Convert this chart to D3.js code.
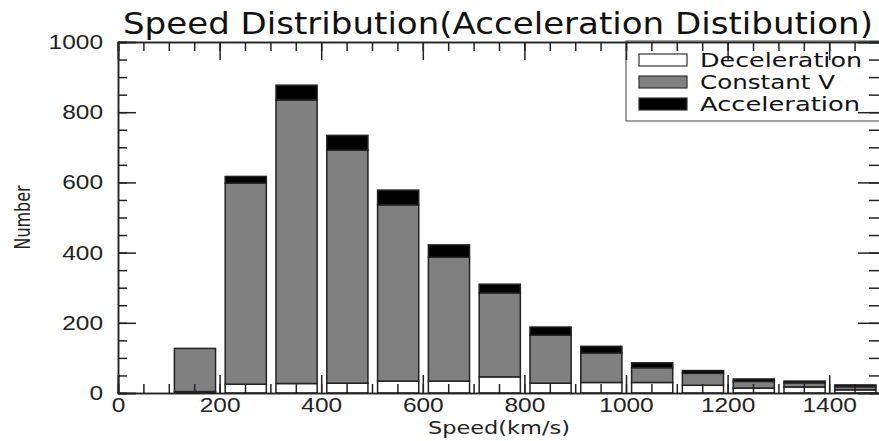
<!DOCTYPE html>
<html>
<head>
<meta charset="utf-8">
<script src="https://cdn.jsdelivr.net/npm/d3@7"></script>
<style>
  body { margin: 0; background: #fff; }
  svg { display: block; font-family: "DejaVu Sans", sans-serif; }
</style>
</head>
<body>
<div id="chart"></div>
<script>
// bins of 100 km/s, starting value of each bin
const binStarts = [100, 200, 300, 400, 500, 600, 700, 800, 900, 1000, 1100, 1200, 1300, 1400]
const deceleration = [4, 25, 27, 28, 34, 34, 46, 28, 30, 30, 22, 14, 17, 9]
const constantV = [123, 573, 808, 664, 502, 353, 239, 137, 84, 42, 34, 19, 12, 9]
const acceleration = [0, 19, 42, 42, 42, 35, 25, 23, 19, 14, 8, 7, 5, 5]
const seriesNames = ['Deceleration', 'Constant V', 'Acceleration']
const seriesColors = ['#ffffff', '#808080', '#000000']
const xTickLabels = [0, 200, 400, 600, 800, 1000, 1200, 1400]
const yTickLabels = [0, 200, 400, 600, 800, 1000]

const width = 879
const height = 441
const margin = { top: 42, right: -1, bottom: 48, left: 118 }

const svg = d3.select('#chart')
  .append('svg')
  .attr('width', width)
  .attr('height', height)

const x = d3.scaleLinear()
  .domain([0, 1500])
  .range([margin.left, width - margin.right])
const y = d3.scaleLinear()
  .domain([0, 1000])
  .range([height - margin.bottom, margin.top])

const rows = binStarts.map((b, i) => ({
  bin: b,
  'Deceleration': deceleration[i],
  'Constant V': constantV[i],
  'Acceleration': acceleration[i]
}))
const stacked = d3.stack().keys(seriesNames)(rows)

// bars
svg.append('g')
  .selectAll('g')
  .data(stacked)
  .join('g')
  .attr('fill', (d, i) => seriesColors[i])
  .selectAll('rect')
  .data(d => d.filter(s => s[1] - s[0] > 0))
  .join('rect')
  .attr('x', d => x(d.data.bin + 11))
  .attr('width', d => x(d.data.bin + 92) - x(d.data.bin + 11))
  .attr('y', d => y(d[1]))
  .attr('height', d => y(d[0]) - y(d[1]))
  .attr('stroke', '#222')
  .attr('stroke-width', 1.5)

// legend (ticks of the frame are drawn over it)
const legend = svg.append('g')
legend.append('rect')
  .attr('x', 626).attr('y', 41)
  .attr('width', 270).attr('height', 80)
  .attr('fill', '#fff')
  .attr('stroke', '#444')
  .attr('stroke-width', 1)
const legendWidths = [162, 135, 160]
seriesNames.forEach((name, i) => {
  const cy = 60 + i * 22
  legend.append('rect')
    .attr('x', 639).attr('y', cy - 6)
    .attr('width', 48).attr('height', 12)
    .attr('fill', seriesColors[i])
    .attr('stroke', '#333')
    .attr('stroke-width', 1.2)
  legend.append('text')
    .attr('x', 700).attr('y', cy)
    .attr('dy', '0.35em')
    .attr('font-size', 20)
    .attr('textLength', legendWidths[i])
    .attr('lengthAdjust', 'spacingAndGlyphs')
    .attr('fill', '#111')
    .text(name)
})

// axes: minor ticks every 50, major every 200, all pointing inward
const minorX = d3.range(0, 1501, 50)
const minorY = d3.range(0, 1001, 50)
const frame = svg.append('g').attr('stroke-width', 1.5)

const addAxis = (axis, transform, labels) => {
  const g = frame.append('g').attr('transform', transform).call(axis)
  g.select('.domain').attr('stroke', '#222').attr('stroke-width', 1.5)
  g.selectAll('.tick line').attr('stroke', '#222').attr('stroke-width', 1.5)
  g.selectAll('text')
    .attr('font-size', 20)
    .attr('fill', '#222')
    .attr('textLength', d => String(d).length * 13.6)
    .attr('lengthAdjust', 'spacingAndGlyphs')
  if (!labels) g.selectAll('text').remove()
  return g
}

const bottomY = y(0)
const topY = y(1000)
const leftX = x(0)
const rightX = x(1500)

addAxis(d3.axisBottom(x).tickValues(minorX).tickSize(-9).tickFormat(''), `translate(0,${bottomY})`, false)
addAxis(d3.axisBottom(x).tickValues(xTickLabels).tickSize(-18).tickPadding(5).tickFormat(d3.format('d')), `translate(0,${bottomY})`, true)
addAxis(d3.axisTop(x).tickValues(minorX).tickSize(-9).tickFormat(''), `translate(0,${topY})`, false)
addAxis(d3.axisTop(x).tickValues(xTickLabels).tickSize(-18).tickFormat(''), `translate(0,${topY})`, false)
addAxis(d3.axisLeft(y).tickValues(minorY).tickSize(-9).tickFormat(''), `translate(${leftX},0)`, false)
addAxis(d3.axisLeft(y).tickValues(yTickLabels).tickSize(-18).tickPadding(15).tickFormat(d3.format('d')), `translate(${leftX},0)`, true)
addAxis(d3.axisRight(y).tickValues(minorY).tickSize(-11).tickFormat(''), `translate(${rightX},0)`, false)
addAxis(d3.axisRight(y).tickValues(yTickLabels).tickSize(-22).tickFormat(''), `translate(${rightX},0)`, false)

// titles
svg.append('text')
  .attr('x', 498).attr('y', 34)
  .attr('text-anchor', 'middle')
  .attr('font-size', 30)
  .attr('textLength', 750)
  .attr('lengthAdjust', 'spacingAndGlyphs')
  .attr('fill', '#111')
  .text('Speed Distribution(Acceleration Distibution)')

svg.append('text')
  .attr('x', 499).attr('y', 434)
  .attr('text-anchor', 'middle')
  .attr('font-size', 18)
  .attr('textLength', 142)
  .attr('lengthAdjust', 'spacingAndGlyphs')
  .attr('fill', '#222')
  .text('Speed(km/s)')

svg.append('text')
  .attr('transform', `translate(30,${(topY + bottomY) / 2}) rotate(-90)`)
  .attr('text-anchor', 'middle')
  .attr('font-size', 22)
  .attr('textLength', 64)
  .attr('lengthAdjust', 'spacingAndGlyphs')
  .attr('fill', '#222')
  .text('Number')
</script>
</body>
</html>
